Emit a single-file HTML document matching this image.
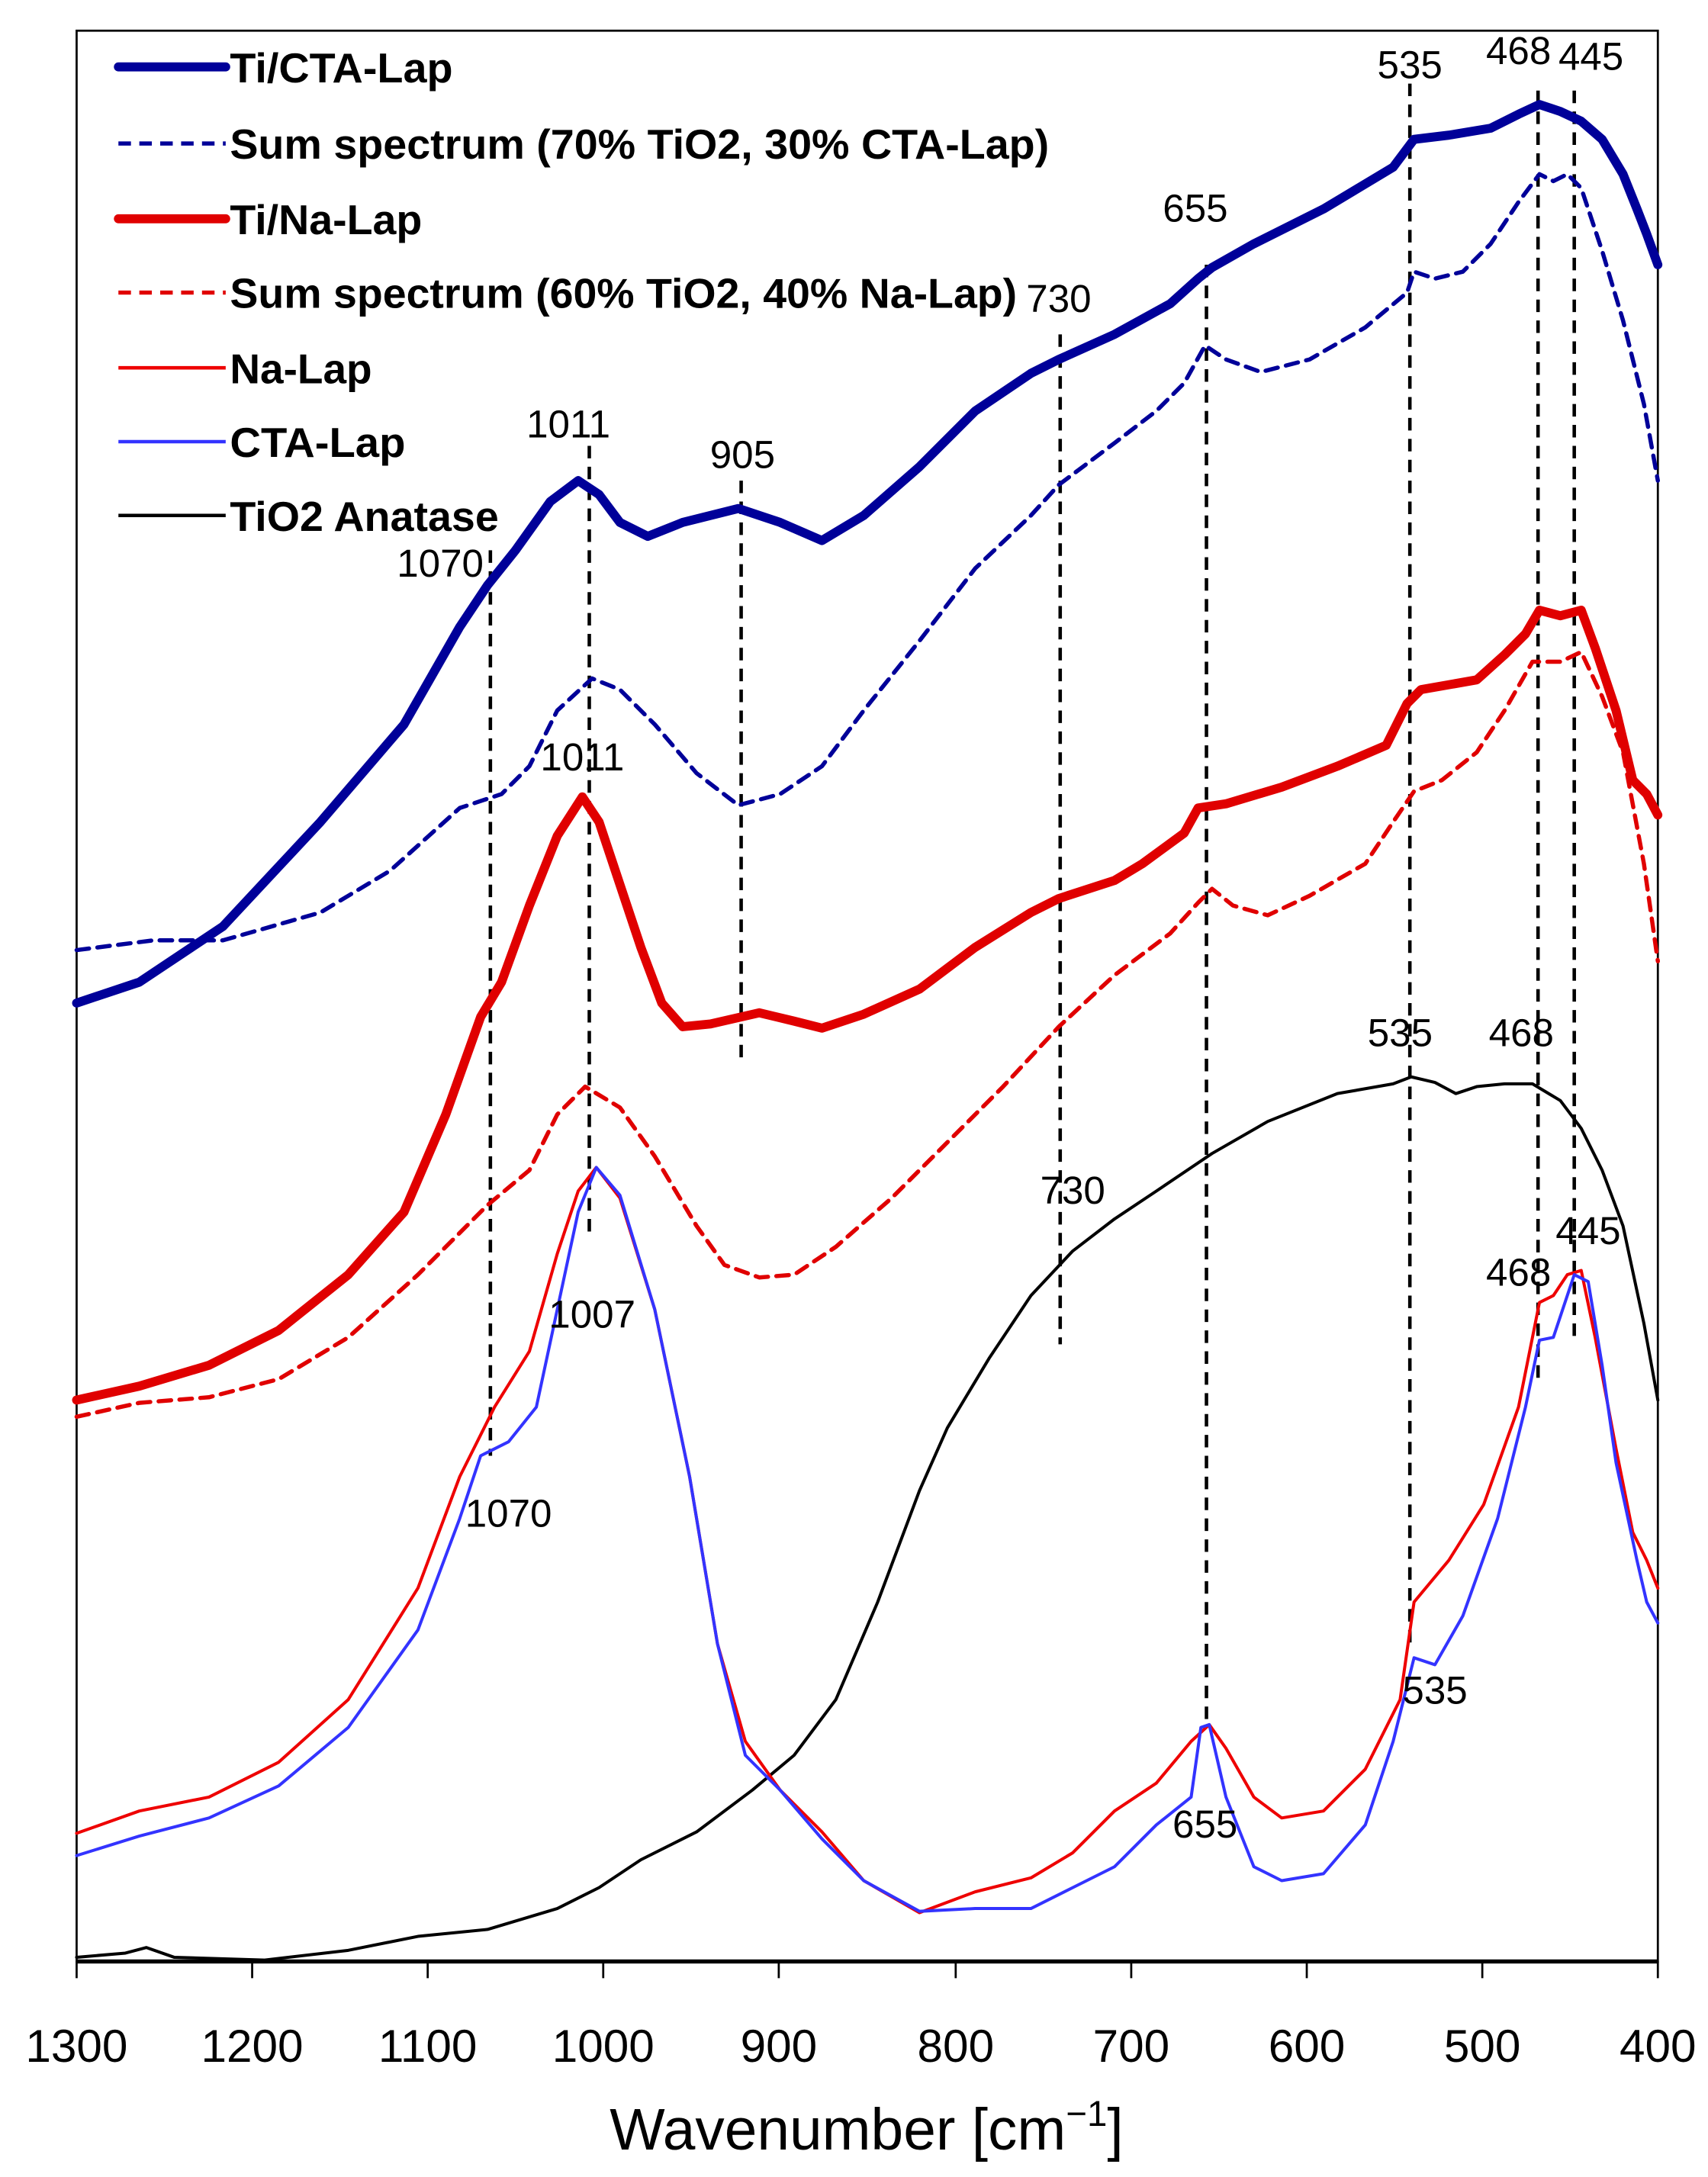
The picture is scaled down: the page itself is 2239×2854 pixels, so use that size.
<!DOCTYPE html>
<html><head><meta charset="utf-8"><style>
html,body{margin:0;padding:0;background:#fff;}
svg{display:block;}
text{font-family:"Liberation Sans",sans-serif;}
</style></head><body>
<svg width="2239" height="2854" viewBox="0 0 1226 1562.7" xmlns="http://www.w3.org/2000/svg">
<rect x="55" y="22" width="1135" height="1386" fill="none" stroke="#000" stroke-width="1.5"/>
<line x1="55" y1="1408" x2="1190" y2="1408" stroke="#000" stroke-width="3"/>
<g stroke="#000" stroke-width="1.5">
<line x1="55" y1="1408" x2="55" y2="1420"/><line x1="181" y1="1408" x2="181" y2="1420"/><line x1="307" y1="1408" x2="307" y2="1420"/><line x1="433" y1="1408" x2="433" y2="1420"/><line x1="559" y1="1408" x2="559" y2="1420"/><line x1="686" y1="1408" x2="686" y2="1420"/><line x1="812" y1="1408" x2="812" y2="1420"/><line x1="938" y1="1408" x2="938" y2="1420"/><line x1="1064" y1="1408" x2="1064" y2="1420"/><line x1="1190" y1="1408" x2="1190" y2="1420"/>
</g>
<g font-size="33" text-anchor="middle" fill="#000">
<text x="55" y="1480">1300</text><text x="181" y="1480">1200</text><text x="307" y="1480">1100</text><text x="433" y="1480">1000</text><text x="559" y="1480">900</text><text x="686" y="1480">800</text><text x="812" y="1480">700</text><text x="938" y="1480">600</text><text x="1064" y="1480">500</text><text x="1190" y="1480">400</text>
</g>
<text x="622" y="1543" font-size="42" text-anchor="middle">Wavenumber [cm<tspan font-size="26" dy="-17">−1</tspan><tspan dy="17">]</tspan></text>

<g stroke="#000" stroke-width="2.5" stroke-dasharray="9,6" fill="none">
<line x1="352" y1="395" x2="352" y2="1045"/><line x1="423" y1="320" x2="423" y2="890"/><line x1="532" y1="345" x2="532" y2="765"/><line x1="761" y1="240" x2="761" y2="965"/><line x1="866" y1="190" x2="866" y2="1240"/><line x1="1012" y1="60" x2="1012" y2="1185"/><line x1="1104" y1="65" x2="1104" y2="990"/><line x1="1130" y1="65" x2="1130" y2="965"/>
</g>

<g fill="none" stroke-linejoin="round" stroke-linecap="round">
<polyline stroke="#000" stroke-width="2.2" points="55,1405 90,1402 105,1398 125,1405 190,1407 250,1400 300,1390 350,1385 400,1370 430,1355 460,1335 500,1315 540,1285 570,1260 600,1220 630,1150 660,1070 680,1025 710,975 740,930 770,898 800,875 830,855 870,828 910,805 960,785 1000,778 1013,773 1030,777 1045,785 1060,780 1080,778 1100,778 1120,790 1135,810 1150,840 1165,880 1180,950 1190,1005"/>
<polyline stroke="#ee0000" stroke-width="2.2" points="55,1316 100,1300 150,1290 200,1265 250,1220 300,1140 330,1060 355,1010 380,970 400,900 415,855 428,838 445,860 470,940 495,1060 515,1180 535,1250 560,1285 590,1315 620,1350 660,1373 700,1358 740,1348 770,1330 800,1300 830,1280 855,1250 868,1238 880,1255 900,1290 920,1305 950,1300 980,1270 1005,1220 1015,1150 1040,1120 1065,1080 1090,1010 1105,935 1115,930 1125,915 1135,912 1145,960 1160,1040 1172,1100 1182,1120 1190,1140"/>
<polyline stroke="#3333ff" stroke-width="2.2" points="55,1332 100,1318 150,1305 200,1282 250,1240 300,1170 330,1090 345,1045 365,1035 385,1010 400,940 415,870 428,838 445,858 470,940 495,1060 515,1180 535,1260 560,1285 590,1320 620,1350 660,1372 700,1370 740,1370 770,1355 800,1340 830,1310 855,1290 862,1240 868,1238 880,1290 900,1340 920,1350 950,1345 980,1310 1000,1250 1015,1190 1030,1195 1050,1160 1075,1090 1095,1010 1105,962 1115,960 1130,915 1140,920 1150,980 1160,1050 1175,1120 1182,1150 1190,1165"/>
<polyline stroke="#e00000" stroke-width="3" stroke-dasharray="9,6" points="55,1017 100,1007 150,1003 200,990 250,960 300,915 350,865 380,840 400,800 420,780 445,795 470,830 500,880 520,908 545,917 570,915 600,895 640,860 680,820 720,780 760,737 800,700 840,670 860,648 870,638 885,650 910,657 940,643 980,620 1000,590 1015,568 1035,560 1060,540 1080,510 1100,475 1120,475 1135,468 1150,500 1165,540 1180,620 1190,690"/>
<polyline stroke="#000099" stroke-width="3" stroke-dasharray="9,6" points="55,682 110,675 160,675 230,655 280,625 330,580 360,570 380,550 400,510 425,487 445,495 470,520 500,555 530,578 560,570 590,550 620,510 660,460 700,408 740,370 760,348 800,318 830,295 850,275 865,248 880,258 905,267 940,258 980,235 1010,210 1015,195 1030,200 1050,195 1070,175 1090,145 1105,125 1115,130 1125,125 1135,135 1150,180 1165,230 1180,290 1190,345"/>
<polyline stroke="#e00000" stroke-width="6.5" points="55,1005 100,995 150,980 200,955 250,915 290,870 320,800 345,730 360,705 380,650 400,600 418,572 430,590 445,635 460,680 475,720 490,737 510,735 545,727 570,733 590,738 620,728 660,710 700,680 740,655 760,645 800,632 820,620 850,598 860,580 880,577 920,565 960,550 995,535 1010,505 1020,495 1060,488 1080,470 1095,455 1105,438 1120,442 1135,438 1145,465 1160,510 1172,560 1182,570 1190,585"/>
<polyline stroke="#000099" stroke-width="6.5" points="55,720 100,705 160,665 230,590 290,520 330,450 350,420 370,395 395,360 415,345 430,355 445,375 465,385 490,375 530,365 560,375 590,388 620,370 660,335 700,295 740,268 760,258 800,240 840,218 860,200 870,192 900,175 950,150 1000,120 1015,100 1040,97 1070,92 1090,82 1105,75 1120,80 1135,87 1150,100 1165,125 1175,150 1182,168 1190,190"/>
</g>

<g font-size="28" fill="#000" text-anchor="middle">
<text x="1012" y="56">535</text><text x="1090" y="46">468</text><text x="1142" y="50">445</text>
<text x="858" y="159">655</text><text x="760" y="224">730</text><text x="408" y="314">1011</text>
<text x="533" y="336">905</text><text x="316" y="414">1070</text><text x="418" y="553">1011</text>
<text x="1005" y="751">535</text><text x="1092" y="751">468</text><text x="770" y="864">730</text>
<text x="425" y="953">1007</text><text x="1090" y="923">468</text><text x="1140" y="893">445</text>
<text x="365" y="1096">1070</text><text x="865" y="1319">655</text><text x="1030" y="1223">535</text>
</g>

<g font-size="30" font-weight="bold" fill="#000">
<line x1="85" y1="48" x2="162" y2="48" stroke="#000099" stroke-width="6.5" stroke-linecap="round"/>
<text x="165" y="59" textLength="160" lengthAdjust="spacingAndGlyphs">Ti/CTA-Lap</text>
<line x1="85" y1="103" x2="162" y2="103" stroke="#000099" stroke-width="3" stroke-dasharray="9,6"/>
<text x="165" y="114" textLength="588" lengthAdjust="spacingAndGlyphs">Sum spectrum (70% TiO2, 30% CTA-Lap)</text>
<line x1="85" y1="157" x2="162" y2="157" stroke="#e00000" stroke-width="6.5" stroke-linecap="round"/>
<text x="165" y="168" textLength="138" lengthAdjust="spacingAndGlyphs">Ti/Na-Lap</text>
<line x1="85" y1="210" x2="162" y2="210" stroke="#e00000" stroke-width="3" stroke-dasharray="9,6"/>
<text x="165" y="221" textLength="565" lengthAdjust="spacingAndGlyphs">Sum spectrum (60% TiO2, 40% Na-Lap)</text>
<line x1="85" y1="264" x2="162" y2="264" stroke="#ee0000" stroke-width="2.5"/>
<text x="165" y="275" textLength="102" lengthAdjust="spacingAndGlyphs">Na-Lap</text>
<line x1="85" y1="317" x2="162" y2="317" stroke="#3333ff" stroke-width="2.5"/>
<text x="165" y="328" textLength="126" lengthAdjust="spacingAndGlyphs">CTA-Lap</text>
<line x1="85" y1="370" x2="162" y2="370" stroke="#000" stroke-width="2.5"/>
<text x="165" y="381" textLength="193" lengthAdjust="spacingAndGlyphs">TiO2 Anatase</text>
</g>
</svg>
</body></html>
